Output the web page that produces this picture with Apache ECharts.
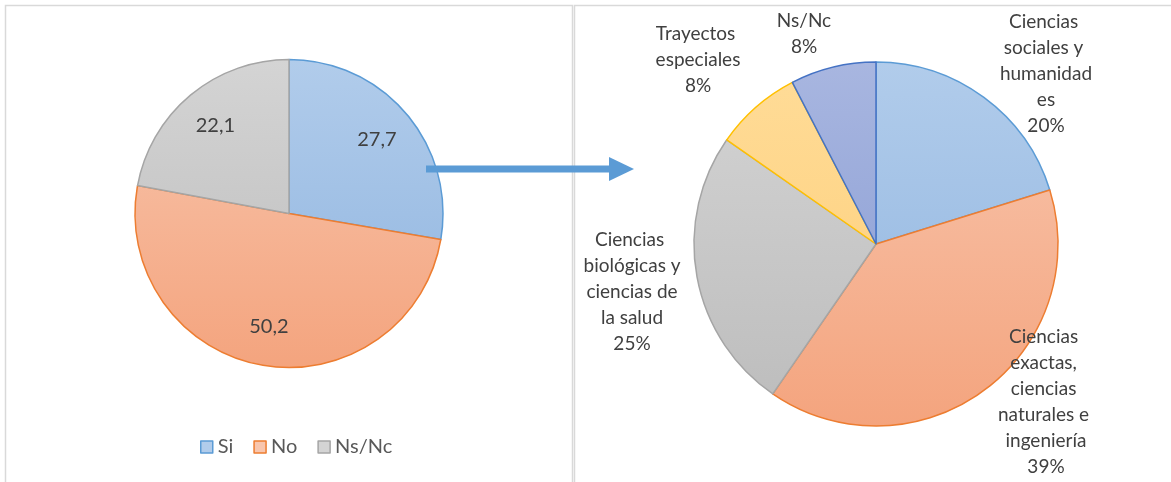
<!DOCTYPE html>
<html>
<head>
<meta charset="utf-8">
<script src="https://cdn.jsdelivr.net/npm/echarts@6/dist/echarts.min.js"></script>
<style>
  html, body { margin: 0; padding: 0; background: #fff; }
  #chart { width: 1171px; height: 482px; }
</style>
</head>
<body>
<div id="chart"></div>
<script>
// left pie
const leftNames = ['Si', 'No', 'Ns/Nc']
const leftValues = [27.7, 50.2, 22.1]
// right pie (breakdown of "Si")
const rightNames = [
    'Ciencias sociales y humanidades',
    'Ciencias exactas, ciencias naturales e ingeniería',
    'Ciencias biológicas y ciencias de la salud',
    'Trayectos especiales',
    'Ns/Nc'
]
const rightValues = [20.2, 39.4, 25.1, 7.7, 7.6]

const font = 'Lato, "Open Sans", sans-serif'

// gradient helper, spans the whole pie vertically
function grad (top, bottom, y0, y1) {
    return {
        type: 'linear', x: 0, y: y0, x2: 0, y2: y1, global: true,
        colorStops: [{ offset: 0, color: top }, { offset: 1, color: bottom }]
    }
}

const leftFill = [['#b1cceb', '#8fb4df'], ['#f8c6ae', '#f4a47e'], ['#d4d4d4', '#bcbcbc']]
const leftBorder = ['#5b9bd5', '#ed7d31', '#a5a5a5']
const rightFill = [['#b1cceb', '#8fb4df'], ['#f8c6ae', '#f4a47e'], ['#d4d4d4', '#bcbcbc'], ['#ffdc98', '#fdcd76'], ['#a8b6e0', '#8599d2']]
const rightBorder = ['#5b9bd5', '#ed7d31', '#a5a5a5', '#ffc000', '#4472c4']

// text block centers for the right pie labels
const rightLabelPos = [[1046, 74], [1046, 402], [632, 292], [698, 60], [804, 34]]
const rightLabelWidth = [96, 100, 106, 100, 100]

const chart = echarts.init(document.getElementById('chart'))

const option = {
    animation: false,
    legend: {
        left: 195,
        top: 432,
        itemWidth: 12,
        itemHeight: 12,
        itemGap: 20,
        icon: 'rect',
        textStyle: { fontFamily: font, fontSize: 20, color: '#595959', padding: [0, 0, 0, 0] },
        data: leftNames.map((n, i) => ({
            name: n,
            itemStyle: { color: leftFill[i][0], borderColor: leftBorder[i], borderWidth: 1.5 }
        }))
    },
    graphic: [
        { type: 'rect', shape: { x: 5.5, y: 5.5, width: 567, height: 500 }, style: { fill: null, stroke: '#d9d9d9', lineWidth: 1.5 }, silent: true },
        { type: 'rect', shape: { x: 574.5, y: 5.5, width: 620, height: 500 }, style: { fill: null, stroke: '#d9d9d9', lineWidth: 1.5 }, silent: true },
        { type: 'rect', shape: { x: 426, y: 165.5, width: 186, height: 7 }, style: { fill: '#5b9bd5' }, silent: true, z: 10 },
        { type: 'polygon', shape: { points: [[609, 157], [634, 169], [609, 181]] }, style: { fill: '#5b9bd5' }, silent: true, z: 10 }
    ],
    series: [
        {
            type: 'pie',
            name: 'left',
            center: [289, 213.5],
            radius: 154,
            startAngle: 90,
            clockwise: true,
            label: { show: false },
            labelLine: { show: false },
            emphasis: { disabled: true },
            data: leftNames.map((n, i) => ({
                name: n,
                value: leftValues[i],
                itemStyle: { color: grad(leftFill[i][0], leftFill[i][1], 60, 367), borderColor: leftBorder[i], borderWidth: 1.5 }
            }))
        },
        {
            // transparent ring, only used to place the value labels further out
            type: 'pie',
            name: 'leftLabels',
            center: [289, 213.5],
            radius: [70, 154],
            startAngle: 90,
            silent: true,
            itemStyle: { color: 'transparent' },
            emphasis: { disabled: true },
            label: {
                show: true,
                position: 'inside',
                fontFamily: font,
                fontSize: 20,
                color: '#404040',
                formatter: p => String(p.value).replace('.', ',')
            },
            labelLine: { show: false },
            data: leftNames.map((n, i) => ({ name: n, value: leftValues[i] }))
        },
        {
            type: 'pie',
            name: 'right',
            center: [876, 244],
            radius: 182,
            startAngle: 90,
            emphasis: { disabled: true },
            label: {
                show: true,
                position: 'outside',
                fontFamily: font,
                fontSize: 19,
                lineHeight: 26,
                color: '#404040',
                align: 'center',
                overflow: 'break',
                formatter: p => p.name + '\n' + Math.round(p.percent) + '%'
            },
            labelLine: { show: false },
            labelLayout: p => ({
                x: rightLabelPos[p.dataIndex][0],
                y: rightLabelPos[p.dataIndex][1],
                align: 'center',
                verticalAlign: 'middle'
            }),
            data: rightNames.map((n, i) => ({
                name: n,
                value: rightValues[i],
                label: { width: rightLabelWidth[i] },
                itemStyle: { color: grad(rightFill[i][0], rightFill[i][1], 63, 425), borderColor: rightBorder[i], borderWidth: 1.5 }
            }))
        }
    ]
}

chart.setOption(option)
</script>
</body>
</html>
